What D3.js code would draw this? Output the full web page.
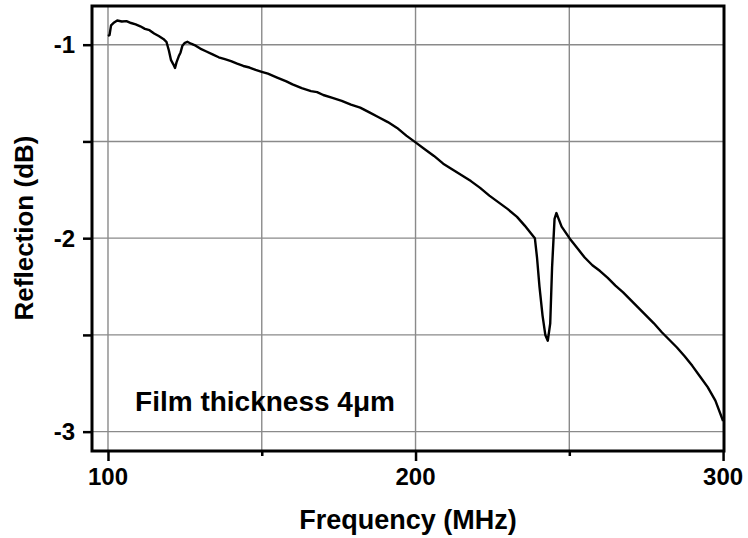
<!DOCTYPE html>
<html>
<head>
<meta charset="utf-8">
<script src="https://cdn.jsdelivr.net/npm/d3@7"></script>
<style>
body { margin: 0; background: #fff; }
text { font-family: "Liberation Sans", Arial, sans-serif; font-weight: bold; fill: #000; }
</style>
</head>
<body>
<div id="canvas"></div>
<script>
// frequency (MHz) and reflection (dB)
var freq = [100.0, 100.5, 101.0, 102.0, 103.0, 104.5, 106.0, 107.5, 109.0, 110.5,
    112.0, 113.5, 115.0, 116.5, 118.0, 119.0, 119.8, 120.5, 121.2, 121.8,
    122.3, 123.0, 123.6, 124.2, 125.0, 125.8, 127.0, 128.5, 130.0, 132.0,
    134.0, 136.0, 138.0, 140.0, 142.0, 144.0, 146.0, 148.0, 150.0, 152.0,
    155.0, 158.0, 160.0, 163.0, 166.0, 168.0, 170.0, 173.0, 176.0, 179.0,
    182.0, 185.0, 188.0, 191.0, 194.0, 197.0, 200.0, 203.0, 206.0, 209.0,
    212.0, 215.0, 218.0, 221.0, 224.0, 227.0, 230.0, 233.0, 235.5, 237.5,
    238.8, 239.5, 240.3, 241.3, 242.2, 243.0, 243.8, 244.4, 245.2, 245.8,
    246.4, 247.5, 249.0, 250.5, 252.5, 255.0, 257.5, 260.0, 262.5, 265.0,
    267.5, 270.0, 272.5, 275.0, 277.5, 280.0, 282.5, 285.0, 287.5, 290.0,
    292.5, 295.0, 297.5, 300.0];
var refl = [-0.955, -0.950, -0.900, -0.885, -0.875, -0.880, -0.878, -0.888, -0.895, -0.905,
    -0.918, -0.925, -0.942, -0.955, -0.970, -0.985, -1.030, -1.080, -1.100, -1.120,
    -1.090, -1.060, -1.040, -1.005, -0.990, -0.985, -0.995, -1.005, -1.020, -1.035,
    -1.050, -1.065, -1.075, -1.085, -1.098, -1.110, -1.118, -1.130, -1.140, -1.150,
    -1.170, -1.190, -1.205, -1.225, -1.240, -1.245, -1.260, -1.275, -1.290, -1.310,
    -1.325, -1.350, -1.375, -1.400, -1.430, -1.470, -1.505, -1.540, -1.575, -1.615,
    -1.645, -1.675, -1.705, -1.740, -1.780, -1.815, -1.850, -1.890, -1.935, -1.975,
    -2.000, -2.100, -2.250, -2.400, -2.500, -2.530, -2.440, -2.150, -1.900, -1.870,
    -1.895, -1.940, -1.975, -2.010, -2.050, -2.100, -2.140, -2.170, -2.205, -2.245,
    -2.280, -2.320, -2.360, -2.400, -2.440, -2.485, -2.525, -2.565, -2.610, -2.660,
    -2.715, -2.770, -2.840, -2.945];

var xTicks = [100, 150, 200, 250, 300];
var xLabels = [100, 200, 300];
var yTicks = [-1, -1.5, -2, -2.5, -3];
var yLabels = [-1, -2, -3];

var W = 748, H = 538;
var m = {t:6, r:24, b:87, l:92},
    w = W - m.l - m.r,
    h = H - m.t - m.b;

var svg = d3.select('#canvas').append('svg')
    .attr('width', W).attr('height', H);

var plot = svg.append('g')
    .attr('transform', 'translate(' + m.l + ',' + m.t + ')');

var x = d3.scaleLinear().domain([94.8, 300.3]).range([0, w]);
var y = d3.scaleLinear().domain([-0.8, -3.1]).range([0, h]);

// grid
plot.selectAll('.vgrid').data(xTicks.slice(0, 4)).enter()
    .append('line').attr('class', 'vgrid')
    .attr('x1', function(d){ return x(d); }).attr('x2', function(d){ return x(d); })
    .attr('y1', 0).attr('y2', h)
    .attr('stroke', '#8a8a8a').attr('stroke-width', 1.4);

plot.selectAll('.hgrid').data(yTicks).enter()
    .append('line').attr('class', 'hgrid')
    .attr('x1', 0).attr('x2', w)
    .attr('y1', function(d){ return y(d); }).attr('y2', function(d){ return y(d); })
    .attr('stroke', '#8a8a8a').attr('stroke-width', 1.4);

// axes
var xAxis = d3.axisBottom(x).tickValues(xTicks)
    .tickSize(0).tickFormat('');
var yAxis = d3.axisLeft(y).tickValues(yTicks)
    .tickSize(9).tickFormat('');

plot.append('g').attr('transform', 'translate(0,' + h + ')').call(xAxis)
    .call(function(g){ g.select('.domain').remove(); })
    .selectAll('.tick line')
    .attr('y2', function(d){ return xLabels.indexOf(d) >= 0 ? 10 : 5; })
    .attr('stroke', '#000').attr('stroke-width', 2.5);

plot.append('g').call(yAxis)
    .call(function(g){ g.select('.domain').remove(); })
    .selectAll('.tick line').attr('stroke', '#000').attr('stroke-width', 2.5);

plot.selectAll('.xlab').data(xLabels).enter()
    .append('text').attr('class', 'xlab')
    .attr('x', function(d){ return x(d); })
    .attr('y', h + 34)
    .attr('text-anchor', 'middle')
    .style('font-size', '24px')
    .text(function(d){ return d; });

plot.selectAll('.ylab').data(yLabels).enter()
    .append('text').attr('class', 'ylab')
    .attr('x', -17)
    .attr('y', function(d){ return y(d); })
    .attr('dy', '0.35em')
    .attr('text-anchor', 'end')
    .style('font-size', '24px')
    .text(function(d){ return d; });

// trace
var pts = freq.map(function(f, i){ return [f, refl[i]]; });
var line = d3.line()
    .x(function(d){ return x(d[0]); })
    .y(function(d){ return y(d[1]); });

plot.append('path').datum(pts)
    .attr('d', line)
    .attr('fill', 'none')
    .attr('stroke', '#000')
    .attr('stroke-width', 2.4)
    .attr('stroke-linejoin', 'round');

// frame
plot.append('rect')
    .attr('x', 0).attr('y', 0).attr('width', w).attr('height', h)
    .attr('fill', 'none').attr('stroke', '#000').attr('stroke-width', 3);

plot.append('text')
    .attr('x', x(108.8)).attr('y', y(-2.895))
    .style('font-size', '28px')
    .text('Film thickness 4\u03bcm');

svg.append('text')
    .attr('x', m.l + w / 2).attr('y', 529)
    .attr('text-anchor', 'middle')
    .style('font-size', '27px')
    .text('Frequency (MHz)');

svg.append('text')
    .attr('transform', 'translate(33,' + 228 + ') rotate(-90)')
    .attr('text-anchor', 'middle')
    .style('font-size', '26px')
    .text('Reflection (dB)');
</script>
</body>
</html>
